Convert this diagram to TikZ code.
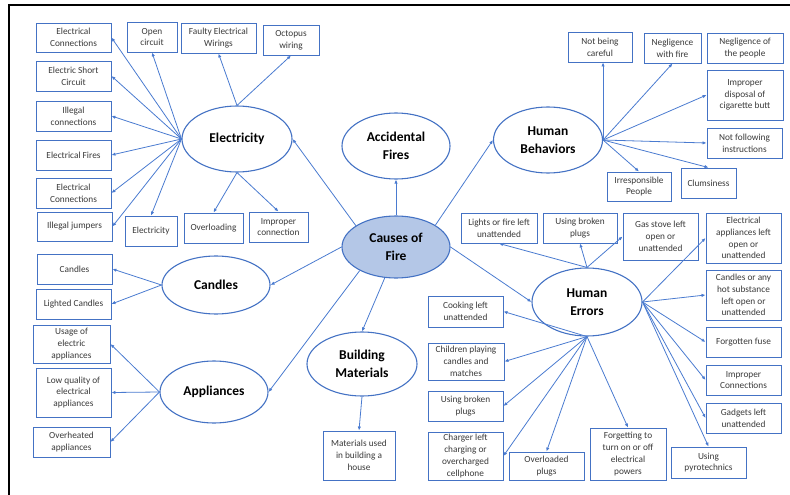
\documentclass[tikz,border=0pt]{standalone}
\usepackage{fontspec}
\setmainfont{Carlito}
\usetikzlibrary{shapes.geometric,arrows.meta}
\definecolor{bl}{HTML}{4472C4}
\definecolor{ln}{HTML}{4A7BD0}
\definecolor{fillb}{HTML}{B4C7E7}
\definecolor{txt}{HTML}{3A3A3A}
\tikzset{
 bx/.style 2 args={draw=bl, line width=0.9pt, fill=white, text=txt, font=\fontsize{9.3}{11.8}\selectfont, align=center, inner sep=0pt, minimum width=#1pt, minimum height=#2pt},
 ell/.style 2 args={ellipse, draw=bl, line width=1.1pt, fill=white, font=\bfseries\fontsize{13.5}{17.5}\selectfont, align=center, inner sep=0pt, minimum width=#1pt, minimum height=#2pt},
 arr/.style={draw=ln, line width=0.8pt, -{Latex[length=4pt,width=3.4pt]}},
}
\begin{document}
\begin{tikzpicture}[x=1pt,y=-1pt]
\useasboundingbox (0,0) rectangle (790,495);
\draw[line width=1.6pt] (9,495) -- (9,5) -- (790,5);
% ellipses
\node[ell={110}{66}] (elec) at (237,139) {Electricity};
\node[ell={108}{66}] (acc) at (396,146) {Accidental\\Fires};
\node[ell={109}{66}] (hb) at (548,140) {Human\\Behaviors};
\node[ell={108}{62}, fill=fillb] (cause) at (396,247) {Causes of\\Fire};
\node[ell={108}{58}] (cand) at (216,285) {Candles};
\node[ell={108}{62}] (app) at (214,392) {Appliances};
\node[ell={110}{64}] (bld) at (362,364) {Building\\Materials};
\node[ell={110}{68}] (he) at (587,302) {Human\\Errors};
% electricity boxes
\node[bx={75}{29}] (ec1) at (73.5,37.5) {Electrical\\Connections};
\node[bx={75}{30}] (esc) at (73.5,76) {Electric Short\\Circuit};
\node[bx={75}{30}] (ilc) at (73.5,116) {Illegal\\connections};
\node[bx={75}{30}] (ef) at (73.5,155) {Electrical Fires};
\node[bx={75}{30}] (ec2) at (73.5,193) {Electrical\\Connections};
\node[bx={75}{29}] (ij) at (74.5,226.5) {Illegal jumpers};
\node[bx={52}{30}] (eb) at (151,231) {Electricity};
\node[bx={59}{30}] (ov) at (213.5,228) {Overloading};
\node[bx={59}{30}] (ic) at (278.5,227) {Improper\\connection};
\node[bx={50}{30}] (oc) at (152,37) {Open\\circuit};
\node[bx={75}{30}] (few) at (218.5,38) {Faulty Electrical\\Wirings};
\node[bx={56}{30}] (ow) at (291,40) {Octopus\\wiring};
% candles
\node[bx={75}{30}] (cb) at (74.5,269) {Candles};
\node[bx={75}{30}] (lc) at (73.5,304) {Lighted Candles};
% appliances
\node[bx={77}{38}] (ua) at (71.5,344) {Usage of\\electric\\appliances};
\node[bx={75}{49}] (lq) at (73.5,392.5) {Low quality of\\electrical\\appliances};
\node[bx={77}{30}] (oh) at (71.5,442) {Overheated\\appliances};
% building
\node[bx={72}{49}] (mu) at (359,455.5) {Materials used\\in building a\\house};
% human behaviors
\node[bx={64}{30}] (nbc) at (600,47) {Not being\\careful};
\node[bx={57}{30}] (nwf) at (672.5,48) {Negligence\\with fire};
\node[bx={76}{30}] (nop) at (745,48) {Negligence of\\the people};
\node[bx={76}{50}] (ipd) at (745,95) {Improper\\disposal of\\cigarette butt};
\node[bx={75}{30}] (nfi) at (744.5,143) {Not following\\instructions};
\node[bx={55}{30}] (clu) at (708.5,183) {Clumsiness};
\node[bx={64}{29}] (irp) at (639,186.5) {Irresponsible\\People};
% human errors
\node[bx={76}{30}] (lfu) at (499,228) {Lights or fire left\\unattended};
\node[bx={74}{30}] (ubp) at (580,228) {Using broken\\plugs};
\node[bx={75}{47}] (gas) at (660.5,236.5) {Gas stove left\\open or\\unattended};
\node[bx={75}{50}] (eal) at (743.5,238) {Electrical\\appliances left\\open or\\unattended};
\node[bx={75}{50}] (chs) at (743.5,295) {Candles or any\\hot substance\\left open or\\unattended};
\node[bx={75}{30}] (ffu) at (743.5,342) {Forgotten fuse};
\node[bx={75}{30}] (icn) at (743.5,380) {Improper\\Connections};
\node[bx={75}{30}] (glu) at (743.5,418) {Gadgets left\\unattended};
\node[bx={75}{31}] (upy) at (708.5,462.5) {Using\\pyrotechnics};
\node[bx={76}{52}] (ftt) at (628,454) {Forgetting to\\turn on or off\\electrical\\powers};
\node[bx={75}{28}] (olp) at (546.5,466) {Overloaded\\plugs};
\node[bx={75}{48}] (chg) at (465.5,456) {Charger left\\charging or\\overcharged\\cellphone};
\node[bx={75}{30}] (ubp2) at (465.5,406) {Using broken\\plugs};
\node[bx={76}{37}] (cpc) at (466,361.5) {Children playing\\candles and\\matches};
\node[bx={75}{31}] (cla) at (465.5,311.5) {Cooking left\\unattended};
% connectors: causes
\draw[arr] (cause.152) -- (elec.east);
\draw[arr] (cause.north) -- (acc.south);
\draw[arr] (cause.29) -- (hb.west);
\draw[arr] (cause.west) -- (cand.east);
\draw[arr] (cause.213) -- (app.east);
\draw[arr] (cause.250) -- (bld.north);
\draw[arr] (cause.east) -- (he.west);
% electricity
\foreach \t in {ec1,esc,ilc,ef,ec2,ij} \draw[arr] (elec.west) -- (\t.east);
\draw[arr] (elec.west) -- (eb.north);
\draw[arr] (elec.west) -- (oc.south);
\draw[arr] (elec.north) -- (few.south);
\draw[arr] (elec.north) -- (ow.south);
\draw[arr] (elec.south) -- (ov.north);
\draw[arr] (elec.south) -- (ic.north);
% candles, appliances, building
\draw[arr] (cand.west) -- (cb.east);
\draw[arr] (cand.west) -- (lc.east);
\draw[arr] (app.west) -- (ua.east);
\draw[arr] (app.west) -- (lq.east);
\draw[arr] (app.west) -- (oh.east);
\draw[arr] (bld.south) -- (mu.north);
% human behaviors
\draw[arr] (hb.east) -- (hb.east |- nbc.south);
\draw[arr] (hb.east) -- (nwf.south);
\draw[arr] (hb.east) -- (ipd.west);
\draw[arr] (hb.east) -- (nfi.west);
\draw[arr] (hb.east) -- (clu.north);
\draw[arr] (hb.east) -- (irp.north);
% human errors
\draw[arr] (he.north) -- (lfu.south);
\draw[arr] (he.north) -- (ubp.south);
\draw[arr] (he.north) -- (gas.west);
\foreach \t in {eal,chs,ffu,icn,glu} \draw[arr] (he.east) -- (\t.west);
\draw[arr] (he.east) -- (upy.north);
\draw[arr] (he.south) -- (ftt.north);
\draw[arr] (he.south) -- (olp.north);
\foreach \t in {chg,ubp2,cpc,cla} \draw[arr] (he.south) -- (\t.east);
\end{tikzpicture}
\end{document}
